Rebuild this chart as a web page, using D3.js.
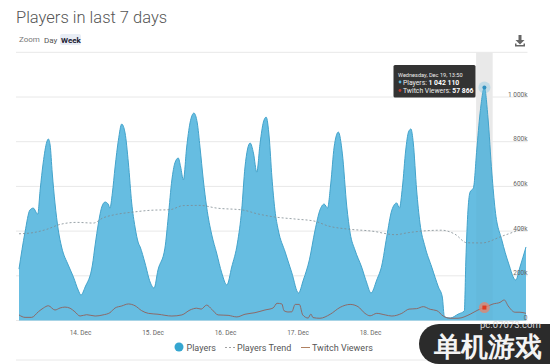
<!DOCTYPE html>
<html>
<head>
<meta charset="utf-8">
<script src="https://cdn.jsdelivr.net/npm/d3@7"></script>
<style>
html,body{margin:0;padding:0;background:#fff;overflow:hidden}
svg{display:block}
text{font-family:Roboto,"Noto Sans",sans-serif}
</style>
</head>
<body>
<svg id="chart" width="550" height="364"></svg>
<script>
// All hours are counted from 14 Dec 00:00; all values are in thousands.
const titleText = "Players in last 7 days";
const zoomLabels = ["Zoom", "Day", "Week"];
const legendLabels = ["Players", "Players Trend", "Twitch Viewers"];
const yTicks = [0, 200, 400, 600, 800, 1000, 1200];
const yTickLabels = ["0", "200k", "400k", "600k", "800k", "1 000k", ""];
const xTickDays = [14, 15, 16, 17, 18];

const playerHours = [-20.2,-18.2,-16.6,-15.5,-14.0,-13.2,-12.2,-11.0,-10.5,-9.9,-9.2,-8.3,-7.2,-6.1,-3.9,-2.2,-0.6,0.3,1.7,4.1,5.0,6.1,7.2,8.3,9.3,9.9,10.7,11.6,12.7,13.8,14.9,16.0,17.1,18.2,19.3,19.9,21.5,23.2,24.5,25.8,28.1,29.2,30.4,31.4,32.5,33.3,34.2,35.3,36.4,37.7,38.8,39.7,40.8,41.9,43.6,45.2,46.9,48.6,50.2,52.1,53.5,54.6,56.3,57.4,58.5,59.6,60.7,61.6,62.6,63.5,64.5,65.6,67.9,70.1,72.3,73.9,75.9,77.8,79.4,80.8,81.9,83.0,84.1,85.5,86.8,88.3,89.4,91.0,93.2,94.9,96.3,98.2,99.9,101.5,103.2,104.8,105.7,106.7,107.8,108.7,109.5,110.3,111.4,112.5,114.2,116.4,118.6,119.9,120.6,122.5,125.2,127.2,127.7,128.4,129.1,130.2,131.3,132.4,133.83,135.0,136.3,137.4,139.6,141.8,144.2,145.6,147.6];
const playerValues = [230,396,494,503,476,584,705,799,812,785,660,526,405,329,248,195,136,114,150,248,338,436,508,530,521,503,570,687,807,879,839,705,526,418,347,329,257,172,145,226,324,463,629,705,727,687,629,776,884,928,884,776,629,508,383,302,213,159,239,347,494,687,794,749,664,794,888,910,821,642,494,405,306,213,123,181,271,405,494,521,503,615,776,843,749,508,391,315,239,168,123,181,248,374,494,526,503,597,763,843,857,794,584,436,329,239,150,105,16,11,29,43,271,494,575,593,763,928,1042.11,910,660,494,360,257,181,239,329];

const twitchHours = [-20.2,-18.2,-16.0,-13.8,-12.1,-10.5,-8.3,-6.6,-5.0,-3.3,-1.7,0,2.2,5.0,7.6,9.9,11.6,13.8,16.0,18.2,20.4,22.6,25.8,30.4,33.7,36.4,38.6,40.1,41.9,43.6,45.7,49.0,51.9,54.6,57.9,61.2,63.9,65.2,66.8,67.5,68.8,70.1,71.2,72.6,73.7,75.5,76.4,77.1,79.4,82.8,86.1,89.4,92.0,94.3,96.0,98.2,101.0,103.2,106.5,108.9,111.4,113.6,115.9,118.1,120.2,122.5,125.1,129.1,131.7,133.83,136.7,139.0,140.4,141.7,144.0,145.6,147.6];
const twitchValues = [25,14,14,39,56,66,47,56,60,55,39,20,26,20,25,35,56,65,74,66,44,32,28,20,25,47,55,51,69,50,25,23,16,28,35,47,56,77,74,44,38,39,72,72,25,11,29,13,10,28,59,72,62,32,21,32,25,20,32,51,53,62,50,44,20,10,10,28,47,57.866,74,81,92,65,37,37,32];

const trendHours = [-20.2,-15.6,-11.0,-6.6,-1.1,4.4,7.6,12.1,17.5,23.2,29.8,34.1,39.7,45.2,54.0,58.5,64.5,71.2,77.8,82.1,88.7,96.6,104.3,108.6,113.1,119.7,124.1,128.0,133.0,139.6,147.3];
const trendValues = [388,393,408,430,439,436,459,475,485,493,496,514,515,503,494,478,463,454,444,423,409,400,384,393,400,404,386,348,347,377,415];

const hoverHour = 133.83;
const hoverPlayers = 1042.11;
const hoverTwitch = 57.866;
const tooltipLines = ["Wednesday, Dec 19, 13:50", "Players: ", "1 042 110", "Twitch Viewers: ", "57 866"];

const base = Date.UTC(2018, 11, 14);
const toDate = h => new Date(base + h * 3600e3);
const svg = d3.select("#chart");

const x = d3.scaleUtc().domain([toDate(-20.2), toDate(147.6)]).range([19, 526]);
const y = d3.scaleLinear().domain([0, 1200]).range([320.5, 52.3]);

// title + zoom controls
svg.append("text").attr("x", 16).attr("y", 23).attr("font-size", 16.5).attr("font-weight", 300)
  .attr("fill", "#555").text(titleText);
svg.append("rect").attr("x", 60).attr("y", 34).attr("width", 21).attr("height", 11).attr("rx", 2).attr("fill", "#e8edf5");
svg.append("text").attr("x", 19).attr("y", 42).attr("font-size", 8).attr("fill", "#777").text(zoomLabels[0]);
svg.append("text").attr("x", 44).attr("y", 43).attr("font-size", 8).attr("fill", "#555").text(zoomLabels[1]);
svg.append("text").attr("x", 61).attr("y", 43).attr("font-size", 8).attr("font-weight", 700).attr("fill", "#223").text(zoomLabels[2]);

// download icon
const icon = svg.append("g").attr("fill", "#666");
icon.append("path").attr("d", "M518.5 35h3v5h3l-4.5 4.5-4.5-4.5h3z");
icon.append("path").attr("d", "M515 43.5h1.5v1.5h7v-1.5h1.5v3h-10z");

// gridlines
svg.append("g").selectAll("line").data(yTicks).join("line")
  .attr("x1", 16).attr("x2", 527.5)
  .attr("y1", d => y(d)).attr("y2", d => y(d))
  .attr("stroke", "#e8e8e8").attr("stroke-width", 1);

// hover band, behind the series
const hx = x(toDate(hoverHour));
svg.append("rect").attr("x", hx - 8.3).attr("y", y(1200)).attr("width", 16.6)
  .attr("height", y(0) - y(1200)).attr("fill", "#eeeeee");

// series
const players = playerHours.map((h, i) => [toDate(h), playerValues[i]]);
const twitch = twitchHours.map((h, i) => [toDate(h), twitchValues[i]]);
const trend = trendHours.map((h, i) => [toDate(h), trendValues[i]]);

const area = d3.area().x(d => x(d[0])).y0(y(0)).y1(d => y(d[1])).curve(d3.curveMonotoneX);
const line = d3.line().x(d => x(d[0])).y(d => y(d[1])).curve(d3.curveMonotoneX);

svg.append("path").attr("d", area(players)).attr("fill", "#66bde1");
svg.append("rect").attr("x", hx - 8.3).attr("y", y(1200)).attr("width", 16.6)
  .attr("height", y(0) - y(1200)).attr("fill", "#000").attr("fill-opacity", 0.02);
svg.append("path").attr("d", line(players)).attr("fill", "none").attr("stroke", "#43a3cb").attr("stroke-width", 1);
svg.append("path").attr("d", line(trend)).attr("fill", "none").attr("stroke", "#7d8a90")
  .attr("stroke-width", 0.8).attr("stroke-dasharray", "2,2");
svg.append("path").attr("d", line(twitch)).attr("fill", "none").attr("stroke", "#8c6a68").attr("stroke-width", 1);

// axes
const yAxis = d3.axisRight(y).tickValues(yTicks).tickSize(0)
  .tickFormat((d, i) => yTickLabels[i]);
svg.append("g").attr("transform", "translate(527.5,0)").call(yAxis)
  .call(g => g.select(".domain").remove())
  .call(g => g.selectAll("text").attr("x", 0).attr("dy", "-0.15em").attr("text-anchor", "end")
    .attr("font-size", 6.5).attr("font-family", "Roboto").attr("fill", "#666"));

const xAxis = d3.axisBottom(x).tickValues(xTickDays.map(d => new Date(Date.UTC(2018, 11, d))))
  .tickSize(0).tickFormat(d => d.getUTCDate() + ". Dec");
svg.append("g").attr("transform", "translate(0,320.5)").call(xAxis)
  .call(g => g.select(".domain").remove())
  .call(g => g.selectAll("text").attr("y", 10).attr("font-size", 6.5).attr("font-family", "Roboto").attr("fill", "#666"));

// hover markers
svg.append("circle").attr("cx", hx).attr("cy", y(hoverPlayers)).attr("r", 6).attr("fill", "#66bde1").attr("fill-opacity", 0.3);
svg.append("circle").attr("cx", hx).attr("cy", y(hoverPlayers)).attr("r", 2).attr("fill", "#2f90c0");
svg.append("circle").attr("cx", hx).attr("cy", y(hoverTwitch)).attr("r", 5.5).attr("fill", "#e8836a").attr("fill-opacity", 0.75);
svg.append("rect").attr("x", hx - 2).attr("y", y(hoverTwitch) - 2).attr("width", 4).attr("height", 4).attr("fill", "#e03a20");

// tooltip
const tip = svg.append("g");
tip.append("rect").attr("x", 393.5).attr("y", 65).attr("width", 82).attr("height", 32.5).attr("rx", 1.5).attr("fill", "#333");
tip.append("text").attr("x", 398).attr("y", 76.5).attr("font-size", 5.6).attr("fill", "#eee").text(tooltipLines[0]);
tip.append("circle").attr("cx", 400).attr("cy", 82).attr("r", 1.4).attr("fill", "#58b4dc");
const t1 = tip.append("text").attr("x", 403).attr("y", 84.8).attr("font-size", 6.8).attr("fill", "#eee");
t1.append("tspan").text(tooltipLines[1]);
t1.append("tspan").attr("font-weight", 700).attr("fill", "#fff").text(tooltipLines[2]);
tip.append("circle").attr("cx", 400).attr("cy", 90.5).attr("r", 1.4).attr("fill", "#c0392b");
const t2 = tip.append("text").attr("x", 403).attr("y", 93).attr("font-size", 6.8).attr("fill", "#eee");
t2.append("tspan").text(tooltipLines[3]);
t2.append("tspan").attr("font-weight", 700).attr("fill", "#fff").text(tooltipLines[4]);

// legend
svg.append("circle").attr("cx", 179).attr("cy", 347).attr("r", 4.5).attr("fill", "#35a6d0");
svg.append("text").attr("x", 186.5).attr("y", 350.5).attr("font-size", 9).attr("fill", "#555").text(legendLabels[0]);
svg.append("line").attr("x1", 225).attr("x2", 235).attr("y1", 347.5).attr("y2", 347.5)
  .attr("stroke", "#888").attr("stroke-width", 0.8).attr("stroke-dasharray", "2,2");
svg.append("text").attr("x", 237).attr("y", 350.5).attr("font-size", 9).attr("fill", "#555").text(legendLabels[1]);
svg.append("line").attr("x1", 301).attr("x2", 310).attr("y1", 347.5).attr("y2", 347.5)
  .attr("stroke", "#b08060").attr("stroke-width", 1);
svg.append("text").attr("x", 312).attr("y", 350.5).attr("font-size", 9).attr("fill", "#555").text(legendLabels[2]);

svg.append("line").attr("x1", 16).attr("x2", 527).attr("y1", 360).attr("y2", 360).attr("stroke", "#e8e8e8");

// watermark
svg.append("path").attr("d", "M550 324H439a20 20 0 0 0 0 40H550z").attr("fill", "#2b2b2b");
svg.append("text").attr("x", 480).attr("y", 328).attr("font-size", 9.5).attr("fill", "#ddd").text("pc.07073.com");
svg.append("text").attr("x", 434).attr("y", 356).attr("font-size", 27).attr("font-weight", 700)
  .attr("font-family", "'Noto Sans CJK SC'").attr("fill", "#f4f4f4").text("单机游戏");
</script>
</body>
</html>
